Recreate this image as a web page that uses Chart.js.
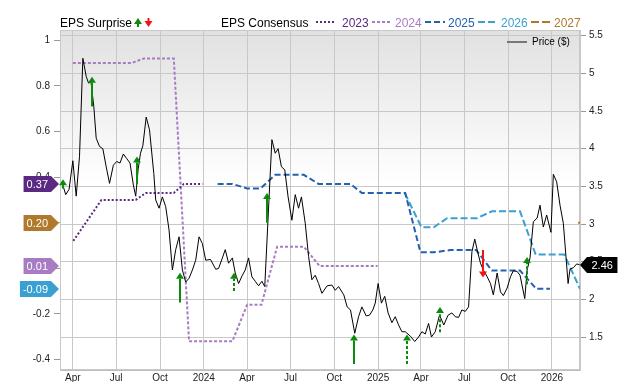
<!DOCTYPE html>
<html><head><meta charset="utf-8">
<script src="https://cdn.jsdelivr.net/npm/chart.js@4.4.1/dist/chart.umd.min.js"></script>
<style>html,body{margin:0;padding:0;background:#fff;overflow:hidden}#wrap{width:640px;height:382px;position:relative}</style>
</head><body><div id="wrap"><canvas id="c" width="640" height="382"></canvas></div>
<script>
// x values are days since 2023-01-01
const tickDays = [90,181,273,365,456,547,639,731,821,912,1004,1096];
const tickLabels = ['Apr','Jul','Oct','2024','Apr','Jul','Oct','2025','Apr','Jul','Oct','2026'];
const epsTicks = [-0.4,-0.2,0,0.2,0.4,0.6,0.8,1];
const epsTickLabels = ['-0.4','-0.2','0','0.2','0.4','0.6','0.8','1'];
const priceTicks = [1.5,2,2.5,3,3.5,4,4.5,5,5.5];
const priceTickLabels = ['1.5','2','2.5','3','3.5','4','4.5','5','5.5'];

const priceDays = [67,75,82,90,97,104,111,118,123,128,134,139,146,153,160,167,175,182,189,196,203,210,217,222,227,232,237,244,251,260,264,271,278,285,292,299,306,313,320,327,334,341,348,355,362,369,379,390,396,404,410,417,425,431,438,446,452,459,466,473,480,487,493,508,515,521,528,535,542,550,557,564,570,578,585,592,599,606,613,624,634,641,648,659,666,673,682,690,697,706,713,720,725,731,738,745,752,760,767,774,781,788,799,808,816,823,830,837,843,851,860,869,878,886,893,900,907,914,921,928,934,939,946,952,960,967,973,981,988,994,1002,1009,1015,1023,1029,1039,1044,1050,1057,1065,1071,1078,1085,1094,1099,1106,1113,1120,1130,1134,1141,1148,1154];
const prices = [3.56,3.39,3.46,3.84,3.37,3.90,5.20,4.96,4.87,4.89,4.56,4.14,4.03,4.00,3.76,3.54,3.78,3.83,3.81,3.93,3.87,3.81,3.52,3.37,3.72,3.94,4.04,4.42,4.25,3.67,3.32,3.21,3.36,3.23,2.92,2.39,2.66,2.83,2.39,2.23,2.28,2.39,2.52,2.83,2.74,2.52,2.53,2.40,2.41,2.55,2.66,2.48,2.55,2.35,2.21,2.32,2.39,2.55,2.30,2.24,2.18,2.24,2.17,4.12,3.94,4.00,3.76,3.72,3.36,3.05,3.39,3.21,3.36,3.01,2.57,2.26,2.32,2.21,2.08,2.18,2.19,2.12,2.17,2.06,1.90,1.86,1.55,1.77,1.90,1.78,1.79,1.86,1.95,2.21,1.95,2.04,1.82,1.69,1.77,1.66,1.57,1.57,1.51,1.44,1.50,1.57,1.54,1.68,1.50,1.57,1.79,1.66,1.79,1.82,1.77,1.76,1.86,1.84,1.90,2.63,2.80,2.66,2.48,2.39,2.30,2.21,2.06,2.35,2.10,2.05,2.15,2.30,2.38,2.37,2.32,2.01,2.39,2.55,3.03,3.08,3.25,2.96,3.12,2.89,3.66,3.56,3.25,3.01,2.21,2.40,2.42,2.47,2.46];

const c2023Days = [91,150,222,243,302,323,362];
const c2023Eps  = [0.12,0.30,0.30,0.33,0.33,0.37,0.37];
const c2024Days = [90,213,239,302,334,425,456,486,519,575,608,730];
const c2024Eps  = [0.90,0.90,0.92,0.92,-0.32,-0.32,-0.16,-0.16,0.095,0.095,0.01,0.01];
const c2025Days = [394,425,456,484,515,575,606,673,697,788,820,848,883,937,970,1029,1063,1092];
const c2025Eps  = [0.37,0.37,0.35,0.35,0.41,0.41,0.37,0.37,0.33,0.33,0.07,0.07,0.08,0.08,-0.01,-0.01,-0.09,-0.09];
const c2026Days = [787,822,848,876,939,970,1029,1062,1122,1155];
const c2026Eps  = [0.33,0.18,0.18,0.22,0.22,0.25,0.25,0.06,0.06,-0.09];
const c2027Days = [1151,1155];
const c2027Eps  = [0.20,0.20];

const surpriseDays = [69,131,225,316,429,498,681,792,862,951,1044];
const surpriseFrom = [0.35,0.71,0.37,-0.15,-0.10,0.20,-0.42,-0.42,-0.28,0.08,-0.07];
const surpriseTo   = [0.39,0.84,0.49,-0.02,-0.02,0.33,-0.29,-0.29,-0.17,-0.04,0.05];
const surpriseReported = [true,true,true,true,false,true,true,false,false,true,false];

const currentLabels = ['2023','2027','2024','2026'];
const currentValues = [0.37,0.20,0.01,-0.09];
const lastPrice = 2.46;

const COL = {'2023':'#5a2a82','2024':'#a77cc2','2025':'#2262b0','2026':'#3aa0d2','2027':'#b07a2c'};
const DASH = {'2023':[2,2],'2024':[3,2],'2025':[6,3],'2026':[7,3],'2027':[8,3]};
const FONT = 'Arial, "Liberation Sans", sans-serif';

const mk = (d, v) => d.map((x, i) => ({x: x, y: v[i]}));
const series = {'2023':[c2023Days,c2023Eps],'2024':[c2024Days,c2024Eps],'2025':[c2025Days,c2025Eps],'2026':[c2026Days,c2026Eps],'2027':[c2027Days,c2027Eps]};

const datasets = [{label:'Price ($)', data: mk(priceDays, prices), yAxisID:'yR', borderColor:'#000', borderWidth:1, pointRadius:0, fill:false}];
Object.keys(series).forEach(k => datasets.push({label:k, data: mk(series[k][0], series[k][1]), yAxisID:'yL', borderColor:COL[k], borderDash:DASH[k], borderWidth:2, pointRadius:0, fill:false}));

function tag(ctx, rectL, rectR, tip, y, h, color, text) {
  ctx.save();
  ctx.fillStyle = color;
  ctx.beginPath();
  if (tip > rectR) {
    ctx.moveTo(rectL, y - h/2); ctx.lineTo(rectR, y - h/2); ctx.lineTo(tip, y); ctx.lineTo(rectR, y + h/2); ctx.lineTo(rectL, y + h/2);
  } else {
    ctx.moveTo(rectR, y - h/2); ctx.lineTo(rectL, y - h/2); ctx.lineTo(tip, y); ctx.lineTo(rectL, y + h/2); ctx.lineTo(rectR, y + h/2);
  }
  ctx.closePath(); ctx.fill();
  ctx.fillStyle = '#fff'; ctx.font = '11px ' + FONT; ctx.textAlign = 'center'; ctx.textBaseline = 'middle';
  ctx.fillText(text, (rectL + rectR)/2, y + 0.5);
  ctx.restore();
}

function arrow(ctx, x, y1, y2, color, dashed) {
  const up = y2 < y1; const hl = 6, hw = 4;
  const base = up ? y2 + hl : y2 - hl;
  ctx.save();
  ctx.strokeStyle = color; ctx.fillStyle = color; ctx.lineWidth = 2;
  ctx.setLineDash(dashed ? [3,2] : []);
  ctx.beginPath(); ctx.moveTo(x, y1); ctx.lineTo(x, base); ctx.stroke();
  ctx.setLineDash([]);
  ctx.beginPath(); ctx.moveTo(x - hw, base); ctx.lineTo(x + hw, base); ctx.lineTo(x, y2); ctx.closePath(); ctx.fill();
  ctx.restore();
}

const plugin = {
  id: 'deco',
  beforeDraw(chart) {
    const {ctx, chartArea: a} = chart;
    ctx.save();
    const g = ctx.createLinearGradient(0, a.top, 0, a.bottom);
    g.addColorStop(0, '#e1e1e1'); g.addColorStop(0.45, '#ffffff'); g.addColorStop(1, '#ffffff');
    ctx.fillStyle = g; ctx.fillRect(a.left, a.top, a.right - a.left, a.bottom - a.top);
    ctx.strokeStyle = '#c8c8c8'; ctx.lineWidth = 1;
    ctx.strokeRect(a.left + 0.5, a.top + 0.5, a.right - a.left - 1, a.bottom - a.top - 1);
    ctx.restore();
  },
  afterDatasetsDraw(chart) {
    const {ctx} = chart; const xs = chart.scales.x, yl = chart.scales.yL;
    surpriseDays.forEach((d, i) => {
      const x = Math.round(xs.getPixelForValue(d));
      const y1 = yl.getPixelForValue(surpriseFrom[i]), y2 = yl.getPixelForValue(surpriseTo[i]);
      const col = surpriseTo[i] >= surpriseFrom[i] ? '#0b8a0b' : '#f01414';
      arrow(ctx, x, y1, y2, col, !surpriseReported[i]);
    });
  },
  afterDraw(chart) {
    const {ctx} = chart; const yl = chart.scales.yL, yr = chart.scales.yR;
    ctx.save();
    ctx.font = '12px ' + FONT; ctx.fillStyle = '#000'; ctx.textBaseline = 'alphabetic'; ctx.textAlign = 'left';
    ctx.fillText('EPS Surprise', 60, 27);
    ctx.fillText('EPS Consensus', 221, 27);
    arrow(ctx, 138, 27, 18, '#0b8a0b', false);
    arrow(ctx, 148.5, 18, 27, '#f01414', false);
    const items = [['2023',316,342],['2024',372,395],['2025',425,448],['2026',478,501],['2027',531,554]];
    items.forEach(([k, lx, tx]) => {
      ctx.save(); ctx.strokeStyle = COL[k]; ctx.lineWidth = 2; ctx.setLineDash(DASH[k]);
      ctx.beginPath(); ctx.moveTo(lx, 22); ctx.lineTo(lx + 20, 22); ctx.stroke(); ctx.restore();
      ctx.fillStyle = COL[k]; ctx.fillText(k, tx, 27);
    });
    ctx.strokeStyle = '#777'; ctx.lineWidth = 2; ctx.beginPath(); ctx.moveTo(507, 42); ctx.lineTo(527, 42); ctx.stroke();
    ctx.font = '10px ' + FONT; ctx.fillStyle = '#000'; ctx.textBaseline = 'middle';
    ctx.fillText('Price ($)', 532, 42.5);
    ctx.font = '11px ' + FONT;
    currentLabels.forEach((k, i) => {
      const txt = currentValues[i].toFixed(2);
      const w = ctx.measureText(txt).width;
      tag(ctx, 51 - w - 6, 51, 59, Math.round(yl.getPixelForValue(currentValues[i])), 16, COL[k], txt);
    });
    const pt = lastPrice.toFixed(2); const pw = ctx.measureText(pt).width;
    tag(ctx, 587, 587 + pw + 9, 580, Math.round(yr.getPixelForValue(lastPrice)), 16, '#000', pt);
    ctx.restore();
  }
};

new Chart(document.getElementById('c'), {
  type: 'line',
  data: {datasets},
  plugins: [plugin],
  options: {
    responsive: false, animation: false, devicePixelRatio: 1,
    layout: {padding: {top: 30, left: 0, right: 0, bottom: 0}},
    plugins: {legend: {display: false}, tooltip: {enabled: false}},
    scales: {
      x: {type: 'linear', position: 'bottom', min: 63, max: 1155,
        afterFit: s => { s.height = 12; },
        afterBuildTicks: s => { s.ticks = tickDays.map(v => ({value: v})); },
        ticks: {autoSkip: false, maxRotation: 0, padding: 2, color: '#222', font: {size: 10, family: FONT}, callback: (v, i) => tickLabels[i]},
        grid: {color: '#c8c8c8', drawTicks: false},
        border: {color: '#bdbdbd'}},
      yL: {type: 'linear', position: 'left', min: -0.446, max: 1.045,
        afterFit: s => { s.width = 60; },
        afterBuildTicks: s => { s.ticks = epsTicks.map(v => ({value: v})); },
        ticks: {padding: 4, color: '#222', font: {size: 10, family: FONT}, callback: (v, i) => epsTickLabels[i]},
        grid: {drawOnChartArea: false, drawTicks: true, tickLength: 6, tickColor: '#999'},
        border: {color: '#c8c8c8'}},
      yR: {type: 'linear', position: 'right', min: 1.062, max: 5.576,
        afterFit: s => { s.width = 60; },
        afterBuildTicks: s => { s.ticks = priceTicks.map(v => ({value: v})); },
        ticks: {padding: 3, color: '#222', font: {size: 10, family: FONT}, callback: (v, i) => priceTickLabels[i]},
        grid: {color: '#c8c8c8', drawTicks: true, tickLength: 6, tickColor: '#999'},
        border: {color: '#c8c8c8'}}
    }
  }
});
</script></body></html>
